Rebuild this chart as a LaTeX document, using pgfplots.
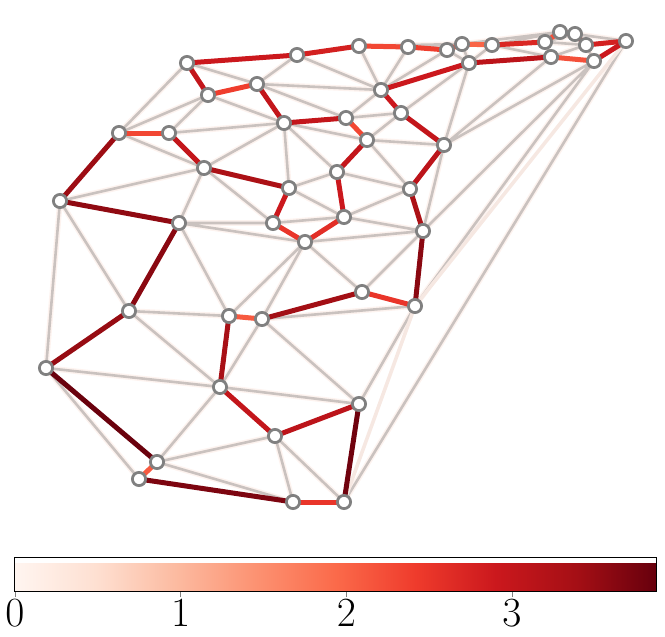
\documentclass[border=0pt]{standalone}
\usepackage{pgfplots}
\usepackage{pgfplotstable}
\pgfplotsset{compat=1.18}
\pgfplotsset{colormap={Reds}{rgb255=(255,245,240) rgb255=(254,224,210) rgb255=(252,187,161) rgb255=(252,146,114) rgb255=(251,106,74) rgb255=(239,59,44) rgb255=(203,24,29) rgb255=(165,15,21) rgb255=(103,0,13)}}
\definecolor{edgegray}{RGB}{202,194,191}
\definecolor{halo}{RGB}{253,243,239}
\definecolor{faint}{RGB}{246,232,226}
\definecolor{nodegray}{RGB}{128,128,128}

\pgfplotstableread{
x y
187 63
297 55
359 46
408 47
447 50
462 44
492 45
545 42
560 32
575 34
586 45
626 41
469 63
551 57
594 61
208 95
257 84
381 90
284 123
346 118
401 113
367 140
444 145
119 133
169 133
204 168
337 172
289 188
410 189
60 201
179 223
273 223
344 217
305 242
423 231
362 292
415 306
129 311
229 316
262 319
46 368
220 387
359 404
275 436
157 462
139 479
293 502
344 502
}\nodestab

\pgfplotstableread{
x y
187 63
119 133
nan nan
187 63
257 84
nan nan
208 95
119 133
nan nan
208 95
169 133
nan nan
208 95
284 123
nan nan
169 133
284 123
nan nan
119 133
204 168
nan nan
204 168
284 123
nan nan
204 168
60 201
nan nan
204 168
179 223
nan nan
204 168
273 223
nan nan
60 201
129 311
nan nan
60 201
46 368
nan nan
179 223
273 223
nan nan
179 223
305 242
nan nan
179 223
229 316
nan nan
129 311
229 316
nan nan
129 311
220 387
nan nan
46 368
220 387
nan nan
46 368
139 479
nan nan
220 387
157 462
nan nan
157 462
275 436
nan nan
157 462
293 502
nan nan
275 436
293 502
nan nan
275 436
344 502
nan nan
262 319
220 387
nan nan
262 319
359 404
nan nan
220 387
359 404
nan nan
229 316
305 242
nan nan
262 319
305 242
nan nan
262 319
415 306
nan nan
415 306
359 404
nan nan
626 41
344 502
nan nan
594 61
415 306
nan nan
594 61
423 231
nan nan
594 61
444 145
nan nan
551 57
444 145
nan nan
469 63
444 145
nan nan
469 63
401 113
nan nan
423 231
444 145
nan nan
423 231
305 242
nan nan
423 231
344 217
nan nan
423 231
362 292
nan nan
362 292
305 242
nan nan
344 217
410 189
nan nan
344 217
273 223
nan nan
344 217
289 188
nan nan
337 172
410 189
nan nan
337 172
289 188
nan nan
337 172
284 123
nan nan
289 188
284 123
nan nan
367 140
284 123
nan nan
367 140
401 113
nan nan
367 140
444 145
nan nan
367 140
410 189
nan nan
257 84
346 118
nan nan
257 84
381 90
nan nan
257 84
297 55
nan nan
297 55
381 90
nan nan
359 46
381 90
nan nan
408 47
381 90
nan nan
447 50
381 90
nan nan
447 50
469 63
nan nan
462 44
469 63
nan nan
492 45
469 63
nan nan
492 45
551 57
nan nan
545 42
551 57
nan nan
381 90
346 118
nan nan
346 118
401 113
nan nan
359 46
462 44
nan nan
408 47
462 44
nan nan
462 44
560 32
nan nan
492 45
560 32
nan nan
545 42
575 34
nan nan
545 42
586 45
nan nan
586 45
551 57
nan nan
586 45
594 61
nan nan
575 34
626 41
}\grayedges

\pgfplotstableread{
x y
415 306
344 502
nan nan
415 306
626 41
}\faintedges

\pgfplotstableread{
x y v
187 63 2.9
297 55 2.9
297 55 2.8
359 46 2.8
359 46 2.3
408 47 2.3
408 47 2.4
447 50 2.4
447 50 2.3
462 44 2.3
462 44 2.0
492 45 2.0
492 45 2.7
545 42 2.7
545 42 2.2
560 32 2.2
560 32 2.5
575 34 2.5
575 34 2.5
586 45 2.5
586 45 2.8
626 41 2.8
626 41 2.9
594 61 2.9
594 61 2.2
551 57 2.2
551 57 3.1
469 63 3.1
469 63 2.9
381 90 2.9
381 90 2.9
401 113 2.9
401 113 3.0
444 145 3.0
444 145 3.1
410 189 3.1
410 189 3.3
423 231 3.3
423 231 3.6
415 306 3.6
415 306 2.5
362 292 2.5
362 292 3.4
262 319 3.4
262 319 2.1
229 316 2.1
229 316 3.35
220 387 3.35
220 387 3.0
275 436 3.0
275 436 3.1
359 404 3.1
359 404 3.8
344 502 3.8
344 502 2.5
293 502 2.5
293 502 3.7
139 479 3.7
139 479 2.1
157 462 2.1
157 462 3.85
46 368 3.85
46 368 3.5
129 311 3.5
129 311 3.6
179 223 3.6
179 223 3.55
60 201 3.55
60 201 3.45
119 133 3.45
119 133 2.3
169 133 2.3
169 133 3.0
204 168 3.0
204 168 3.3
289 188 3.3
289 188 2.9
273 223 2.9
273 223 2.5
305 242 2.5
305 242 2.6
344 217 2.6
344 217 2.9
337 172 2.9
337 172 3.0
367 140 3.0
367 140 2.3
346 118 2.3
346 118 3.0
284 123 3.0
284 123 3.0
257 84 3.0
257 84 2.4
208 95 2.4
208 95 3.0
187 63 3.0
}\touredges

\begin{document}
\begin{tikzpicture}
\begin{axis}[
  scale only axis,
  width=332.5pt, height=265pt,
  xmin=0, xmax=665, ymin=0, ymax=530,
  y dir=reverse,
  axis lines=none,
  xtick=\empty, ytick=\empty,
  clip=false,
  colormap name=Reds,
  point meta min=0, point meta max=3.87,
  colorbar horizontal,
  colorbar style={
    at={(0.02256,-0.0528)}, anchor=north west,
    width=320.5pt, height=17pt,
    xtick={0,1,2,3},
    xtick pos=bottom,
    xtick align=outside,
    major tick length=2.5pt,
    xticklabel style={font=\fontsize{20.5}{24}\selectfont, inner sep=1pt},
    axis line style={line width=0.5pt},
  },
]
\path (axis cs:0,0) rectangle (axis cs:665,637);
\addplot[halo, line width=2.8pt, unbounded coords=jump, forget plot] table[x=x,y=y] {\grayedges};
\addplot[edgegray, line width=1.3pt, unbounded coords=jump, forget plot] table[x=x,y=y] {\grayedges};
\addplot[faint, line width=1.8pt, unbounded coords=jump, forget plot] table[x=x,y=y] {\faintedges};
\addplot[mesh, line width=2.5pt, line cap=round, point meta=\thisrow{v}, forget plot] table[x=x,y=y] {\touredges};
\addplot[only marks, mark=*, mark size=3.3pt, mark options={fill=white, draw=nodegray, line width=1.4pt}, forget plot] table[x=x,y=y] {\nodestab};
\end{axis}
\end{tikzpicture}
\end{document}
